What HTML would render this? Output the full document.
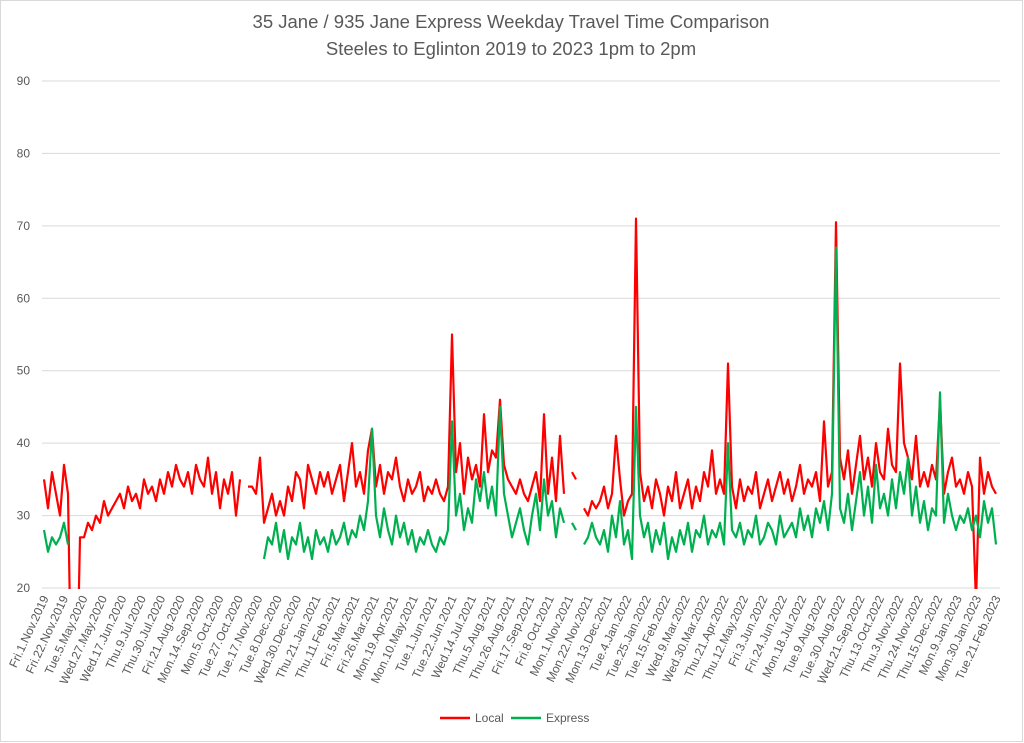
<!DOCTYPE html>
<html><head><meta charset="utf-8"><style>
html,body{margin:0;padding:0;background:#fff;}
svg{display:block;font-family:"Liberation Sans",Calibri,sans-serif;}
</style></head><body>
<svg id="chart" width="1024" height="743" viewBox="0 0 1024 743">
<rect x="0.5" y="0.5" width="1022" height="741" fill="#fff" stroke="#d9d9d9"/>
<text x="511" y="28" text-anchor="middle" font-size="18.5" fill="#595959">35 Jane / 935 Jane Express Weekday Travel Time Comparison</text>
<text x="511" y="55" text-anchor="middle" font-size="18.5" fill="#595959">Steeles to Eglinton 2019 to 2023 1pm to 2pm</text>
<defs><clipPath id="pc"><rect x="40" y="60" width="962" height="529"/></clipPath></defs>
<g id="grid"></g><g id="ylabels"></g><g id="xlabels"></g>
<g id="series" clip-path="url(#pc)"></g>
<g>
<line x1="440" y1="718" x2="470" y2="718" stroke="#ff0000" stroke-width="2.5"/>
<text x="475" y="722" font-size="12" fill="#595959">Local</text>
<line x1="511" y1="718" x2="541" y2="718" stroke="#00b050" stroke-width="2.5"/>
<text x="546" y="722" font-size="12" fill="#595959">Express</text>
</g>
</svg>
<script>
const yTicks=[20,30,40,50,60,70,80,90];
const xTickLabels=["Fri.1.Nov.2019","Fri.22.Nov.2019","Tue.5.May.2020","Wed.27.May.2020","Wed.17.Jun.2020","Thu.9.Jul.2020","Thu.30.Jul.2020","Fri.21.Aug.2020","Mon.14.Sep.2020","Mon.5.Oct.2020","Tue.27.Oct.2020","Tue.17.Nov.2020","Tue.8.Dec.2020","Wed.30.Dec.2020","Thu.21.Jan.2021","Thu.11.Feb.2021","Fri.5.Mar.2021","Fri.26.Mar.2021","Mon.19.Apr.2021","Mon.10.May.2021","Tue.1.Jun.2021","Tue.22.Jun.2021","Wed.14.Jul.2021","Thu.5.Aug.2021","Thu.26.Aug.2021","Fri.17.Sep.2021","Fri.8.Oct.2021","Mon.1.Nov.2021","Mon.22.Nov.2021","Mon.13.Dec.2021","Tue.4.Jan.2022","Tue.25.Jan.2022","Tue.15.Feb.2022","Wed.9.Mar.2022","Wed.30.Mar.2022","Thu.21.Apr.2022","Thu.12.May.2022","Fri.3.Jun.2022","Fri.24.Jun.2022","Mon.18.Jul.2022","Tue.9.Aug.2022","Tue.30.Aug.2022","Wed.21.Sep.2022","Thu.13.Oct.2022","Thu.3.Nov.2022","Thu.24.Nov.2022","Thu.15.Dec.2022","Mon.9.Jan.2023","Mon.30.Jan.2023","Tue.21.Feb.2023"];
const N=null;
const localValues=[35,31,36,33,30,37,33,0,0,27,
27,29,28,30,29,32,30,31,32,33,
31,34,32,33,31,35,33,34,32,35,
33,36,34,37,35,34,36,33,37,35,
34,38,33,36,31,35,33,36,30,35,
N,34,34,33,38,29,31,33,30,32,
30,34,32,36,35,31,37,35,33,36,
34,36,33,35,37,32,36,40,34,36,
33,39,42,34,37,33,36,35,38,34,
32,35,33,34,36,32,34,33,35,33,
32,34,55,36,40,33,38,35,37,34,
44,36,39,38,46,37,35,34,33,35,
33,32,34,36,32,44,33,38,32,41,
33,N,36,35,N,31,30,32,31,32,
34,31,33,41,35,30,32,33,71,36,
32,34,31,35,33,30,34,32,36,31,
33,35,31,34,32,36,34,39,33,35,
33,51,34,31,35,32,34,33,36,31,
33,35,32,34,36,33,35,32,34,37,
33,35,34,36,32,43,34,36,70.5,38,
35,39,33,37,41,35,38,34,40,36,
35,42,37,36,51,40,38,35,41,34,
36,34,37,35,46,33,36,38,34,35,
33,36,34,18,38,33,36,34,33];
const expressValues=[28,25,27,26,27,29,26,N,N,N,
N,N,N,N,N,N,N,N,N,N,N,N,N,N,N,N,N,N,N,N,
N,N,N,N,N,N,N,N,N,N,N,N,N,N,N,N,N,N,N,N,
N,N,N,N,N,24,27,26,29,25,
28,24,27,26,29,25,27,24,28,26,
27,25,28,26,27,29,26,28,27,30,
28,32,42,30,27,31,28,26,30,27,
29,26,28,25,27,26,28,26,25,27,
26,28,43,30,33,28,31,29,35,32,
36,31,34,30,45,33,30,27,29,31,
28,26,30,33,28,35,30,32,27,31,
29,N,29,28,N,26,27,29,27,26,
28,25,30,27,32,26,28,24,45,30,
27,29,25,28,26,29,24,27,25,28,
26,29,25,28,27,30,26,28,27,29,
26,40,28,27,29,26,28,27,30,26,
27,29,28,26,30,27,28,29,27,31,
28,30,27,31,29,32,28,33,67,31,
29,33,28,32,36,30,34,29,37,31,
33,30,35,31,36,33,38,30,34,29,
32,28,31,30,47,29,33,30,28,30,
29,31,28,30,27,32,29,31,26];

const NS="http://www.w3.org/2000/svg";
const X0=42,X1=1000,Y0=588,Ytop=81;
function yScale(v){return Y0-(v-20)/(90-20)*(Y0-Ytop);}
function xScale(i){return 44+i*4;}
function tickX(k){return 45+k*(997-45)/(xTickLabels.length-1);}
const grid=document.getElementById('grid'),yl=document.getElementById('ylabels'),xl=document.getElementById('xlabels'),sg=document.getElementById('series');
yTicks.forEach(t=>{
 const l=document.createElementNS(NS,'line');
 l.setAttribute('x1',X0);l.setAttribute('x2',X1);l.setAttribute('y1',yScale(t));l.setAttribute('y2',yScale(t));
 l.setAttribute('stroke','#d9d9d9');l.setAttribute('stroke-width','1');
 
 
 grid.appendChild(l);
 const tx=document.createElementNS(NS,'text');
 tx.setAttribute('x',30);tx.setAttribute('y',yScale(t)+4);tx.setAttribute('text-anchor','end');
 tx.setAttribute('font-size','12');tx.setAttribute('fill','#595959');tx.textContent=t;
 
 
 yl.appendChild(tx);
});
xTickLabels.forEach((s,k)=>{
 const x=tickX(k);
 const tx=document.createElementNS(NS,'text');
 tx.setAttribute('transform','translate('+(x+4)+',598) rotate(-65)');
 tx.setAttribute('text-anchor','end');tx.setAttribute('font-size','12');tx.setAttribute('fill','#595959');
 tx.textContent=s;
 
 
 xl.appendChild(tx);
});
function drawSeries(vals,color,name){
 let d='',pen=false;
 vals.forEach((v,i)=>{
  if(v===null){pen=false;return;}
  d+=(pen?'L':'M')+xScale(i).toFixed(1)+','+yScale(v).toFixed(1);pen=true;
 });
 const p=document.createElementNS(NS,'path');
 p.setAttribute('d',d);p.setAttribute('fill','none');p.setAttribute('stroke',color);
 p.setAttribute('stroke-width','2.2');p.setAttribute('stroke-linejoin','round');
 
 
 sg.appendChild(p);
}
drawSeries(localValues,'#ff0000','local-series-line');
drawSeries(expressValues,'#00b050','express-series-line');
</script>
</body></html>
